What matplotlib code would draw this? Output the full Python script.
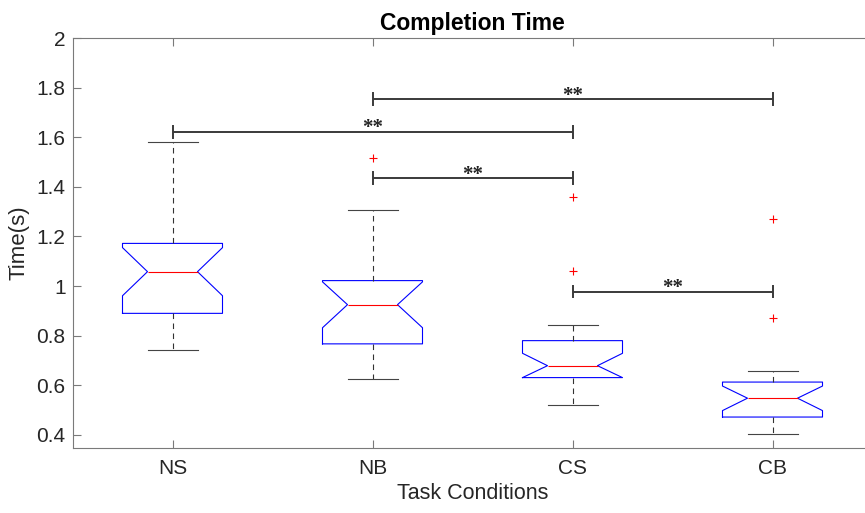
import matplotlib
matplotlib.use("Agg")
import matplotlib.pyplot as plt

categories = ["NS", "NB", "CS", "CB"]
q1 = [0.890, 0.767, 0.631, 0.472]
med = [1.058, 0.925, 0.679, 0.548]
q3 = [1.172, 1.022, 0.780, 0.613]
notch_lo = [0.961, 0.832, 0.631, 0.498]
notch_hi = [1.155, 1.017, 0.729, 0.597]
whisker_lo = [0.741, 0.627, 0.521, 0.404]
whisker_hi = [1.581, 1.308, 0.842, 0.658]
outliers = [[], [1.515], [1.358, 1.060], [1.269, 0.870]]

# significance comparisons: (group a, group b, bar height, label)
sig_a = [2, 1, 2, 3]
sig_b = [4, 3, 3, 4]
sig_y = [1.753, 1.622, 1.435, 0.978]
sig_text = ["**", "**", "**", "**"]

plt.rcParams['font.family'] = ['Liberation Sans', 'DejaVu Sans']

fig = plt.figure(figsize=(8.65, 5.13), dpi=100)
ax = fig.add_axes([72.5 / 865, (513 - 448.3) / 513, 800 / 865, (448.3 - 38) / 513])

stats = []
for i in range(len(categories)):
    stats.append(dict(med=med[i], q1=q1[i], q3=q3[i], whislo=whisker_lo[i],
                      whishi=whisker_hi[i], fliers=outliers[i],
                      cilo=notch_lo[i], cihi=notch_hi[i], label=categories[i]))

positions = list(range(1, len(categories) + 1))
ax.bxp(stats, positions=positions, widths=0.5, capwidths=0.25, shownotches=True,
       boxprops=dict(color='#0000ff', linewidth=0.8),
       medianprops=dict(color='#ff0000', linewidth=0.8),
       whiskerprops=dict(color='#333333', linestyle=(0, (5, 4)), linewidth=0.8),
       capprops=dict(color='#444444', linewidth=0.8),
       flierprops=dict(marker='+', markeredgecolor='#ff0000', markersize=6,
                       markeredgewidth=0.8, linestyle='none'))

tick_h = 0.024
for a, b, y, t in zip(sig_a, sig_b, sig_y, sig_text):
    ax.plot([a, b], [y, y], color='#3a3a3a', linewidth=1.4, solid_capstyle='butt')
    ax.plot([a, a], [y - tick_h, y + tick_h], color='#3a3a3a', linewidth=1.4)
    ax.plot([b, b], [y - tick_h, y + tick_h], color='#3a3a3a', linewidth=1.4)
    ax.annotate(t, xy=((a + b) / 2, y), xytext=(0, -1), textcoords='offset points',
                ha='center', va='baseline', fontsize=15, fontweight='bold',
                family=['Liberation Serif', 'DejaVu Serif'], color='#222222')

ax.set_xlim(0.5, 4.5)
ax.set_ylim(0.346, 2.0)
ax.set_yticks([0.4, 0.6, 0.8, 1.0, 1.2, 1.4, 1.6, 1.8, 2.0])
ax.set_yticklabels(["0.4", "0.6", "0.8", "1", "1.2", "1.4", "1.6", "1.8", "2"])
ax.set_xticks(positions)
ax.set_xticklabels(categories)

spine_color = '#7a7a7a'
for s in ax.spines.values():
    s.set_color(spine_color)
    s.set_linewidth(0.8)
ax.tick_params(direction='in', length=6, width=0.8, color=spine_color,
               labelsize=15, labelcolor='#262626', top=True, right=True)
ax.tick_params(axis='x', pad=8)
ax.tick_params(axis='y', pad=5)

ax.set_title("Completion Time", fontsize=16.5, fontweight='bold', color='black', pad=6)
ax.set_xlabel("Task Conditions", fontsize=15.5, color='#262626', labelpad=3)
ax.set_ylabel("Time(s)", fontsize=16, color='#262626', labelpad=5)

fig.savefig("out.png", dpi=100)
